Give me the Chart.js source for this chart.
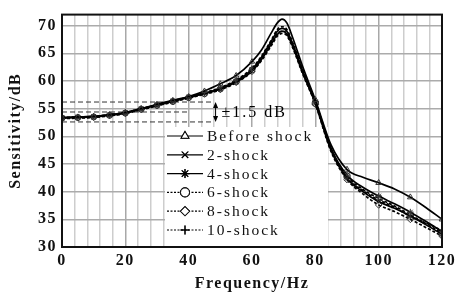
<!DOCTYPE html>
<html>
<head>
<meta charset="utf-8">
<script src="https://cdn.jsdelivr.net/npm/chart.js@4/dist/chart.umd.min.js"></script>
<style>
  html, body { margin: 0; padding: 0; background: #fff; }
  canvas { display: block; }
</style>
</head>
<body>
<canvas id="sensChart" width="459" height="293"></canvas>
<script>
// frequency points (Hz) and sensitivity curves (dB)
const freqHz = [0, 5, 10, 15, 20, 25, 30, 35, 40, 45, 50, 55, 60, 63, 66, 68, 69.5, 71, 73, 76, 80, 85, 90, 95, 100, 105, 110, 115, 120];

const beforeShock = [53.4, 53.5, 53.6, 53.9, 54.3, 55.0, 55.8, 56.5, 57.2, 58.2, 59.5, 61.0, 63.5, 65.6, 68.6, 70.5, 71.2, 70.5, 67.6, 62.6, 56.6, 48.4, 44.0, 42.6, 41.6, 40.5, 39.0, 37.1, 35.0];
const shock2 =      [53.3, 53.4, 53.5, 53.8, 54.2, 54.9, 55.6, 56.3, 57.0, 57.7, 58.5, 59.8, 61.8, 63.9, 66.6, 68.4, 69.0, 68.5, 66.1, 61.5, 56.0, 47.4, 42.4, 40.0, 38.2, 37.0, 35.6, 34.0, 32.3];
const shock4 =      [53.4, 53.5, 53.6, 53.9, 54.3, 55.0, 55.7, 56.4, 57.1, 57.8, 58.7, 60.0, 62.1, 64.3, 67.1, 69.0, 69.5, 69.0, 66.5, 61.8, 56.2, 47.8, 43.0, 40.8, 39.2, 37.8, 36.3, 34.6, 32.8];
const shock6 =      [53.3, 53.4, 53.5, 53.8, 54.2, 54.9, 55.6, 56.3, 57.0, 57.7, 58.6, 59.9, 62.0, 64.1, 66.8, 68.6, 69.0, 68.6, 66.2, 61.6, 56.0, 47.6, 42.8, 40.4, 38.8, 37.4, 35.8, 34.2, 32.5];
const shock8 =      [53.2, 53.3, 53.4, 53.7, 54.1, 54.8, 55.5, 56.2, 56.9, 57.6, 58.4, 59.7, 61.7, 63.7, 66.3, 68.1, 68.6, 68.2, 65.8, 61.3, 55.8, 47.2, 42.2, 39.6, 37.6, 36.4, 35.0, 33.5, 32.0];
const shock10 =     [53.4, 53.5, 53.6, 53.9, 54.3, 55.0, 55.7, 56.4, 57.1, 57.9, 58.8, 60.2, 62.3, 64.5, 67.3, 69.3, 69.8, 69.3, 66.7, 62.0, 56.3, 47.8, 42.5, 40.2, 38.5, 37.2, 35.5, 34.3, 33.0];

const seriesNames = ['Before shock', '2-shock', '4-shock', '6-shock', '8-shock', '10-shock'];
const seriesValues = [beforeShock, shock2, shock4, shock6, shock8, shock10];
const seriesMarkers = ['triangle', 'crossRot', 'star', 'circle', 'rectRot', 'cross'];
const seriesDashed = [false, false, false, true, true, true];

// +-1.5 dB band guide lines
const bandHz = [0, 48];
const bandMidHz = [0, 40];
const bandUpper = [56.2, 56.2];
const bandMid = [54.4, 54.4];
const bandLower = [52.6, 52.6];
const bandLabel = '\u00b11.5 dB';
const arrowHz = 48.5;

const xTicksLabelled = [0, 20, 40, 60, 80, 100, 120];

const SERIF = '"Liberation Serif", "Times New Roman", serif';

function pts(xs, ys){ return xs.map((x, i) => ({ x: x, y: ys[i] })); }

// markers every 5 Hz below 60 Hz, every 10 Hz above
function markerRadius(c){
  const f = freqHz[c.dataIndex];
  if (f === undefined) return 0;
  if (f <= 60) return f % 5 === 0 ? 3 : 0;
  return f % 10 === 0 ? 3.3 : 0;
}

const datasets = seriesNames.map((name, i) => ({
  label: name,
  data: pts(freqHz, seriesValues[i]),
  borderColor: '#000',
  borderWidth: 1.7,
  borderDash: seriesDashed[i] ? [3, 2] : [],
  pointStyle: seriesMarkers[i],
  pointRadius: markerRadius,
  pointBorderColor: '#333',
  pointBorderWidth: 1,
  pointBackgroundColor: 'rgba(255,255,255,0)',
  cubicInterpolationMode: 'monotone',
  fill: false
}));

function guide(xs, ys){
  return {
    label: '_guide',
    data: pts(xs, ys),
    borderColor: '#333',
    borderWidth: 1,
    borderDash: [5, 3],
    pointRadius: 0,
    fill: false
  };
}
datasets.push(guide(bandHz, bandUpper), guide(bandMidHz, bandMid), guide(bandHz, bandLower));

const decorPlugin = {
  id: 'decor',
  beforeDraw(chart){
    chart.ctx.letterSpacing = '1.5px';
  },
  beforeDatasetsDraw(chart){
    // white legend box over the grid
    const ctx = chart.ctx;
    ctx.save();
    ctx.fillStyle = '#fff';
    ctx.fillRect(165, 127, 163, chart.chartArea.bottom - 127 - 1);
    ctx.restore();
  },
  afterDraw(chart){
    const ctx = chart.ctx;
    const xs = chart.scales.x, ys = chart.scales.y;
    const a = chart.chartArea;
    ctx.save();
    // frame
    ctx.strokeStyle = '#111';
    ctx.lineWidth = 2;
    ctx.strokeRect(a.left, a.top, a.right - a.left, a.bottom - a.top);

    // double arrow for +-1.5 dB
    const ax = xs.getPixelForValue(arrowHz);
    const y1 = ys.getPixelForValue(bandUpper[0]), y2 = ys.getPixelForValue(bandLower[0]);
    ctx.strokeStyle = '#000';
    ctx.fillStyle = '#000';
    ctx.lineWidth = 1;
    ctx.beginPath(); ctx.moveTo(ax, y1 + 2); ctx.lineTo(ax, y2 - 2); ctx.stroke();
    ctx.beginPath(); ctx.moveTo(ax, y1); ctx.lineTo(ax - 2.5, y1 + 6); ctx.lineTo(ax + 2.5, y1 + 6); ctx.closePath(); ctx.fill();
    ctx.beginPath(); ctx.moveTo(ax, y2); ctx.lineTo(ax - 2.5, y2 - 6); ctx.lineTo(ax + 2.5, y2 - 6); ctx.closePath(); ctx.fill();
    ctx.letterSpacing = '2px';
    ctx.font = '16px ' + SERIF;
    ctx.textAlign = 'left';
    ctx.textBaseline = 'middle';
    ctx.fillText(bandLabel, ax + 6, (y1 + y2) / 2 + 1);

    // legend
    ctx.font = '15.5px ' + SERIF;
    seriesNames.forEach((name, i) => {
      const y = 136 + i * 18.8;
      ctx.strokeStyle = '#000';
      ctx.lineWidth = 1.2;
      ctx.setLineDash(seriesDashed[i] ? [2, 1.5] : []);
      ctx.beginPath(); ctx.moveTo(167, y); ctx.lineTo(203, y); ctx.stroke();
      ctx.setLineDash([]);
      ctx.fillStyle = '#fff';
      Chart.helpers.drawPoint(ctx, { pointStyle: seriesMarkers[i], radius: 4.5, borderWidth: 1 }, 185, y);
      ctx.strokeStyle = '#000';
      ctx.lineWidth = 1;
      Chart.helpers.drawPoint(ctx, { pointStyle: seriesMarkers[i], radius: 4.5, borderWidth: 1 }, 185, y);
      ctx.fillStyle = '#111';
      ctx.fillText(name, 207, y + 1);
    });
    ctx.restore();
  }
};

new Chart(document.getElementById('sensChart'), {
  type: 'line',
  data: { datasets: datasets },
  plugins: [decorPlugin],
  options: {
    responsive: false,
    animation: false,
    layout: { padding: { left: 0, top: 13, right: 17, bottom: 0 } },
    plugins: { legend: { display: false }, tooltip: { enabled: false } },
    scales: {
      x: {
        type: 'linear',
        min: 0, max: 120,
        afterFit(s){ s.height = 46; },
        ticks: {
          stepSize: 4,
          autoSkip: false,
          maxRotation: 0,
          padding: 4,
          color: '#111',
          font: { family: SERIF, size: 16, weight: 'bold' },
          callback: v => xTicksLabelled.includes(v) ? String(v) : ''
        },
        grid: {
          drawTicks: false,
          lineWidth: 1.5,
          color: c => (c.tick && c.tick.value % 20 === 0) ? '#a8a8a8' : '#cdcdcd'
        },
        border: { display: true, color: '#111', width: 2 },
        title: {
          display: true,
          text: 'Frequency/Hz',
          color: '#111',
          font: { family: SERIF, size: 16, weight: 'bold' },
          padding: { top: 0, bottom: 0 }
        }
      },
      y: {
        min: 30, max: 72,
        afterFit(s){ s.width = 62; },
        ticks: {
          stepSize: 5,
          includeBounds: false,
          padding: 5,
          color: '#111',
          font: { family: SERIF, size: 16, weight: 'bold' }
        },
        grid: { drawTicks: false, lineWidth: 1.5, color: '#ababab' },
        border: { display: true, color: '#111', width: 2 },
        title: {
          display: true,
          text: 'Sensitivity/dB',
          color: '#111',
          font: { family: SERIF, size: 16, weight: 'bold' },
          padding: { top: 6, bottom: 0 }
        }
      }
    }
  }
});
</script>
</body>
</html>
